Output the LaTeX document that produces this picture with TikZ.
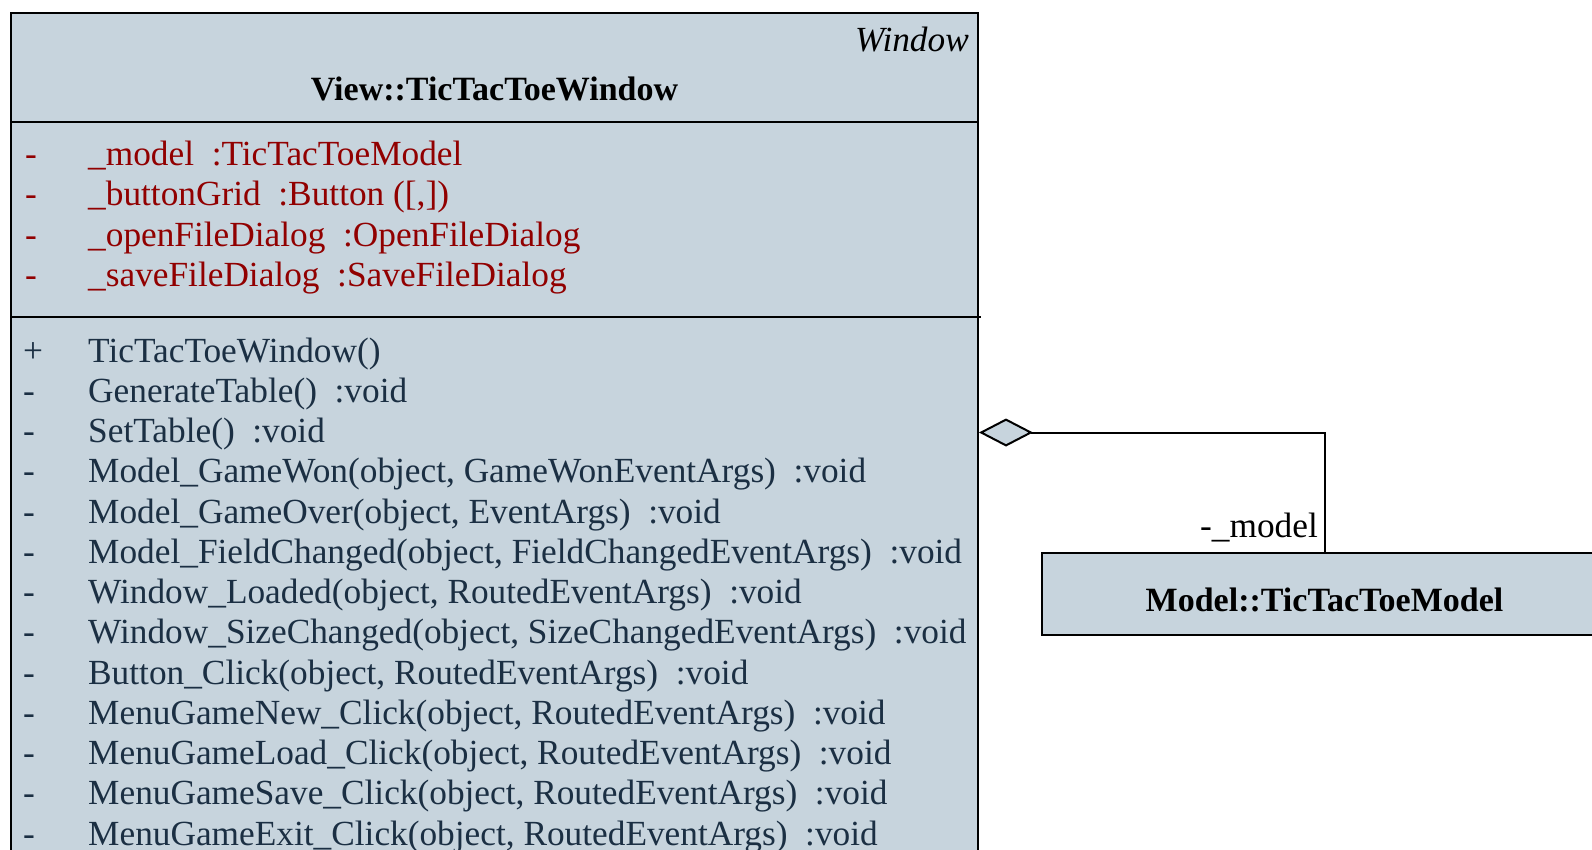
\documentclass[tikz,border=0pt]{standalone}
\usepackage{fontspec}
\setmainfont{Liberation Serif}
\usetikzlibrary{arrows.meta}
\definecolor{umlfill}{RGB}{199,212,221}
\definecolor{attrred}{RGB}{145,0,0}
\definecolor{opblue}{RGB}{27,47,67}
\newcommand\umlfont{\fontsize{35.3}{40}\selectfont}
\newcommand\umlhead{\fontsize{34}{40}\selectfont\bfseries}
\tikzset{umlbox/.style={draw=black, line width=2pt, fill=umlfill, inner sep=0pt},
  member/.style={anchor=base west, inner sep=0pt, font=\umlfont},
  aggr/.style={line width=2pt, -{Diamond[fill=umlfill, length=54pt, width=28pt]}}}

\begin{document}
\begin{tikzpicture}[x=1pt, y=-1pt]
\useasboundingbox (0,0) rectangle (1592,849);
\node[umlbox, anchor=north west, minimum width=967pt, minimum height=900pt] (win) at (10,12) {};
\draw[line width=2pt] (10,121.8) -- (977,121.8);
\draw[line width=2pt] (10,316.8) -- (981,316.8);
\node[font=\umlfont\itshape, anchor=base east, inner sep=0pt] (stereo) at (969,51) {Window};
\node[font=\umlhead, anchor=base, inner sep=0pt] (wintitle) at (494.5,100) {View::TicTacToeWindow};
\foreach \txt [count=\i from 0] in {\_model\enspace:TicTacToeModel, \_buttonGrid\enspace:Button ([{,}]),
    \_openFileDialog\enspace:OpenFileDialog, \_saveFileDialog\enspace:SaveFileDialog}{
  \node[member, text=attrred] (avis\i) at (25,165.5+40.3*\i) {-};
  \node[member, text=attrred] (attr\i) at (88,165.5+40.3*\i) {\txt};
}
\foreach \vis/\txt [count=\i from 0] in {+/TicTacToeWindow(), -/GenerateTable()\enspace:void, -/SetTable()\enspace:void,
    -/{Model\_GameWon(object, GameWonEventArgs)\enspace:void},
    -/{Model\_GameOver(object, EventArgs)\enspace:void},
    -/{Model\_FieldChanged(object, FieldChangedEventArgs)\enspace:void},
    -/{Window\_Loaded(object, RoutedEventArgs)\enspace:void},
    -/{Window\_SizeChanged(object, SizeChangedEventArgs)\enspace:void},
    -/{Button\_Click(object, RoutedEventArgs)\enspace:void},
    -/{MenuGameNew\_Click(object, RoutedEventArgs)\enspace:void},
    -/{MenuGameLoad\_Click(object, RoutedEventArgs)\enspace:void},
    -/{MenuGameSave\_Click(object, RoutedEventArgs)\enspace:void},
    -/{MenuGameExit\_Click(object, RoutedEventArgs)\enspace:void}}{
  \node[member, text=opblue] (ovis\i) at (23,362+40.27*\i) {\vis};
  \node[member, text=opblue] (op\i) at (88,362+40.27*\i) {\txt};
}
% associated class
\node[umlbox, minimum width=566pt, minimum height=81.3pt] (model) at (1324.5,594) {};
\node[font=\umlhead, anchor=base, inner sep=0pt] (modeltitle) at (1324.5,611) {Model::TicTacToeModel};
\coordinate (aggend) at (979,432.5);
\draw[aggr] (model.north) |- (aggend);
\node[font=\umlfont, anchor=base east, inner sep=0pt] (rolelbl) at (1318,537) {-\_model};
\end{tikzpicture}
\end{document}
